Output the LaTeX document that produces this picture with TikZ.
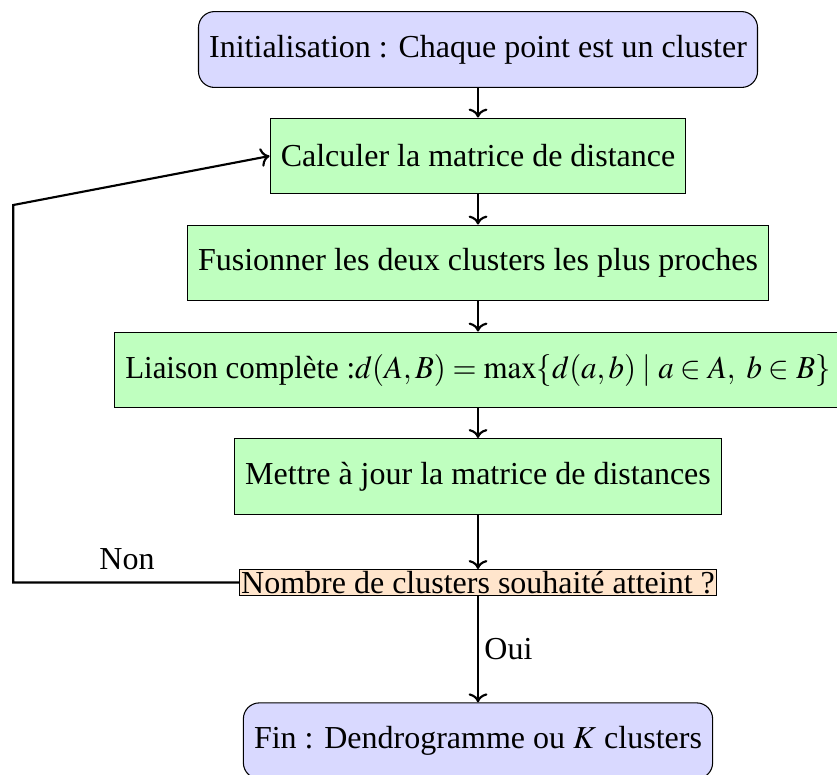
\documentclass[12pt,tikz,border=0pt]{standalone}
\usepackage{mathptmx}
\usepackage[no-math]{fontspec}
\setmainfont{Liberation Serif}
\usepackage{graphicx}
\usetikzlibrary{arrows.meta}
\begin{document}
\begin{tikzpicture}[x=0.375pt,y=-0.375pt,
  termbox/.style={draw, rounded corners=6pt, fill=blue!15, minimum height=1cm, inner sep=4pt},
  procbox/.style={draw, fill=green!25, minimum height=1cm, inner sep=4pt},
  decbox/.style={draw, fill=orange!20, inner sep=0.6pt},
  conn/.style={thick, ->},
  lbl/.style={inner sep=2pt}]
\useasboundingbox (0,0) rectangle (837,774);
\node[termbox] (start) at (478,49.5) {Initialisation : Chaque point est un cluster};
\node[procbox] (calc) at (478,156) {Calculer la matrice de distance};
\node[procbox] (fus) at (478,263) {Fusionner les deux clusters les plus proches};
\node[procbox] (liai) at (478,370) {\scalebox{0.965}[1]{Liaison complète :$d(A,B) = \max\{d(a,b) \mid a \in A,\ b \in B\}$}};
\node[procbox] (maj) at (478,476.5) {Mettre à jour la matrice de distances};
\node[decbox] (dec) at (478,582.5) {Nombre de clusters souhaité atteint ?};
\node[termbox] (fin) at (478,740.8) {Fin : Dendrogramme ou $K$ clusters};
\coordinate (c1) at (13.3,582.5);
\coordinate (c2) at (13.3,205);
\draw[conn] (start) -- (calc);
\draw[conn] (calc) -- (fus);
\draw[conn] (fus) -- (liai);
\draw[conn] (liai) -- (maj);
\draw[conn] (maj) -- (dec);
\draw[conn] (dec.west) -- (c1) -- (c2) -- (calc.west);
\node[lbl] (non) at (127,559) {Non};
\draw[conn] (dec) -- node[lbl, right] (oui) {Oui} (fin);
\end{tikzpicture}
\end{document}
